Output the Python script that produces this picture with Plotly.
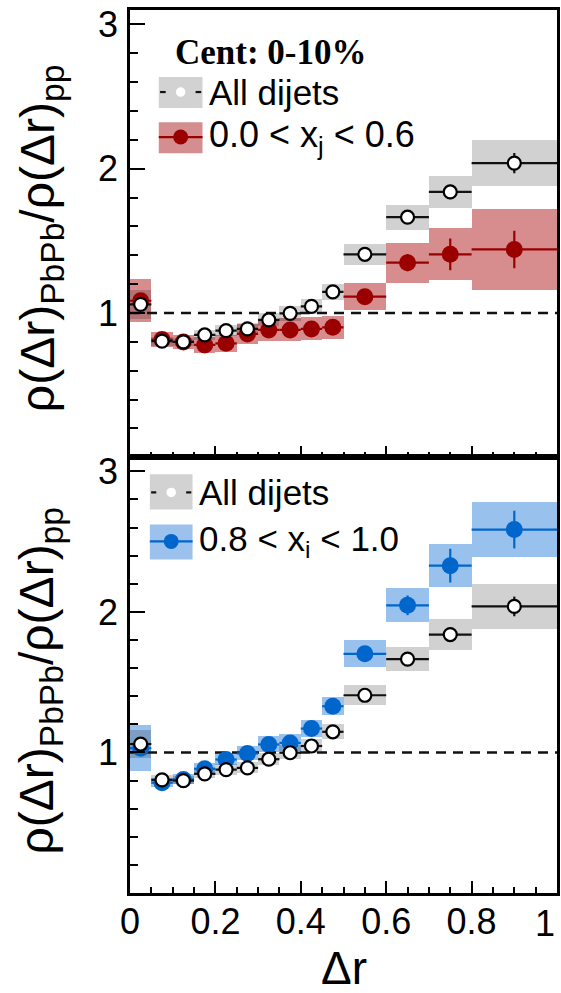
import plotly.graph_objects as go
from plotly.subplots import make_subplots

# Delta-r bins (centres and half widths)
dr_center = [0.025, 0.075, 0.125, 0.175, 0.225, 0.275, 0.325, 0.375, 0.425, 0.475,
             0.55, 0.65, 0.75, 0.9]
dr_halfwidth = [0.025] * 10 + [0.05, 0.05, 0.05, 0.1]

# All dijets (shown in both panels)
all_val = [1.06, 0.805, 0.80, 0.848, 0.878, 0.89, 0.952, 0.998, 1.046, 1.147,
           1.407, 1.664, 1.839, 2.039]
all_stat = [0.015, 0.01, 0.01, 0.01, 0.01, 0.01, 0.012, 0.012, 0.015, 0.02,
            0.02, 0.03, 0.05, 0.07]
all_sys = [0.10, 0.03, 0.03, 0.035, 0.04, 0.04, 0.045, 0.05, 0.05, 0.055,
           0.074, 0.087, 0.109, 0.16]

# 0.0 < xj < 0.6
low_val = [1.085, 0.816, 0.80, 0.779, 0.79, 0.855, 0.883, 0.883, 0.89, 0.901,
           1.113, 1.349, 1.407, 1.441]
low_stat = [0.02, 0.015, 0.015, 0.015, 0.015, 0.015, 0.015, 0.015, 0.02, 0.02,
            0.03, 0.06, 0.11, 0.13]
low_sys = [0.15, 0.05, 0.05, 0.055, 0.06, 0.07, 0.075, 0.08, 0.08, 0.08,
           0.092, 0.138, 0.18, 0.28]

# 0.8 < xj < 1.0
high_val = [1.03, 0.785, 0.808, 0.884, 0.95, 0.993, 1.057, 1.068, 1.17, 1.329,
            1.702, 2.047, 2.329, 2.586]
high_stat = [0.02, 0.015, 0.015, 0.015, 0.015, 0.015, 0.02, 0.02, 0.02, 0.025,
             0.03, 0.07, 0.12, 0.134]
high_sys = [0.165, 0.03, 0.035, 0.04, 0.045, 0.05, 0.055, 0.06, 0.06, 0.065,
            0.099, 0.118, 0.154, 0.197]

x_ticks = [0, 0.2, 0.4, 0.6, 0.8, 1.0]
x_ticktext = ["0", "0.2", "0.4", "0.6", "0.8", ""]   # "1" is placed flush right below
y_ticks = [1, 2, 3]

SANS = "Liberation Sans, Arial, sans-serif"
GRAY_BOX = "rgba(0,0,0,0.18)"
RED = "#9b0000"
RED_BOX = "rgba(170,10,15,0.47)"
BLUE = "#0066cc"
BLUE_BOX = "rgba(0,100,210,0.40)"

fig = make_subplots(rows=2, cols=1, shared_xaxes=False, vertical_spacing=0.0,
                    row_heights=[0.5066, 0.4934])


def add_panel(row, val, stat, sys, color, box_color):
    lo = [v - s for v, s in zip(val, sys)]
    hi = [2 * s for s in sys]
    all_lo = [v - s for v, s in zip(all_val, all_sys)]
    all_hi = [2 * s for s in all_sys]
    widths = [2 * h for h in dr_halfwidth]
    # systematic boxes
    fig.add_trace(go.Bar(x=dr_center, y=hi, base=lo, width=widths,
                         marker=dict(color=box_color, line=dict(width=0)),
                         showlegend=False, hoverinfo="skip"), row=row, col=1)
    fig.add_trace(go.Bar(x=dr_center, y=all_hi, base=all_lo, width=widths,
                         marker=dict(color=GRAY_BOX, line=dict(width=0)),
                         showlegend=False, hoverinfo="skip"), row=row, col=1)
    # unity reference
    fig.add_trace(go.Scatter(x=[0, 1], y=[1, 1], mode="lines",
                             line=dict(color="#111", width=2.5, dash="10px,7px"),
                             showlegend=False, hoverinfo="skip"), row=row, col=1)
    # selected class
    fig.add_trace(go.Scatter(
        x=dr_center, y=val, mode="markers",
        marker=dict(color=color, size=17, line=dict(width=0)),
        error_x=dict(type="data", array=dr_halfwidth, width=0, thickness=2.2, color=color),
        error_y=dict(type="data", array=stat, width=0, thickness=2.2, color=color),
        showlegend=False, cliponaxis=False), row=row, col=1)
    # all dijets
    fig.add_trace(go.Scatter(
        x=dr_center, y=all_val, mode="markers",
        marker=dict(color="white", size=13, line=dict(width=2.2, color="black")),
        error_x=dict(type="data", array=dr_halfwidth, width=0, thickness=2.2, color="#111"),
        error_y=dict(type="data", array=all_stat, width=0, thickness=2.2, color="#111"),
        showlegend=False, cliponaxis=False), row=row, col=1)


add_panel(1, low_val, low_stat, low_sys, RED, RED_BOX)
add_panel(2, high_val, high_stat, high_sys, BLUE, BLUE_BOX)

axis_common = dict(showline=True, linewidth=2.5, linecolor="black", mirror=True,
                   showgrid=False, zeroline=False, ticks="inside", tickcolor="black",
                   tickwidth=2)
for r in (1, 2):
    fig.update_xaxes(range=[0, 1], tickvals=x_ticks, ticktext=x_ticktext, ticklen=12,
                     minor=dict(ticks="inside", tickmode="linear", tick0=0, dtick=0.05,
                                ticklen=6, tickwidth=1.5, tickcolor="black"),
                     showticklabels=(r == 2), ticklabelstandoff=-5,
                     tickfont=dict(family=SANS, size=36, color="black"),
                     row=r, col=1, **axis_common)
    fig.update_yaxes(range=[0, 3.1], tickvals=y_ticks, ticklen=15,
                     minor=dict(ticks="inside", tickmode="linear", tick0=0, dtick=0.2,
                                ticklen=8, tickwidth=1.5, tickcolor="black"),
                     ticklabelstandoff=2,
                     tickfont=dict(family=SANS, size=36, color="black"),
                     row=r, col=1, **axis_common)

ytitle = "ρ(Δr)<sub>PbPb</sub>/ρ(Δr)<sub>pp</sub>"
annotations = [
    dict(text=ytitle, xref="paper", yref="paper", x=-0.21, y=0.742, textangle=-90,
         showarrow=False, xanchor="center", yanchor="middle",
         font=dict(family=SANS, size=48, color="black")),
    dict(text=ytitle, xref="paper", yref="paper", x=-0.21, y=0.241, textangle=-90,
         showarrow=False, xanchor="center", yanchor="middle",
         font=dict(family=SANS, size=48, color="black")),
    dict(text="1", xref="paper", yref="paper", x=1.0, y=-0.0345, showarrow=False,
         xanchor="right", yanchor="middle", font=dict(family=SANS, size=36, color="black")),
    dict(text="Δr", xref="paper", yref="paper", x=0.5, y=-0.085, showarrow=False,
         xanchor="center", yanchor="middle", font=dict(family=SANS, size=46, color="black")),
    # top panel legend text
    dict(text="<b>Cent: 0-10%</b>", xref="x domain", yref="y domain", x=0.1, y=0.906,
         xanchor="left", yanchor="middle", showarrow=False,
         font=dict(family="Liberation Serif, Times New Roman, serif", size=35, color="black")),
    dict(text="All dijets", xref="x domain", yref="y domain", x=0.18, y=0.8166,
         xanchor="left", yanchor="middle", showarrow=False,
         font=dict(family=SANS, size=35, color="black")),
    dict(text="0.0 < x<sub>j</sub> < 0.6", xref="x domain", yref="y domain", x=0.18, y=0.716,
         xanchor="left", yanchor="middle", showarrow=False,
         font=dict(family=SANS, size=36, color="black")),
    # bottom panel legend text
    dict(text="All dijets", xref="x2 domain", yref="y2 domain", x=0.158, y=0.9195,
         xanchor="left", yanchor="middle", showarrow=False,
         font=dict(family=SANS, size=35, color="black")),
    dict(text="0.8 < x<sub>i</sub> < 1.0", xref="x2 domain", yref="y2 domain", x=0.158, y=0.807,
         xanchor="left", yanchor="middle", showarrow=False,
         font=dict(family=SANS, size=35, color="black")),
]

shapes = []


def legend_entry(xr, yr, x0, x1, y0, y1, ymid, box, line_color, mcolor, mline, msize, split):
    shapes.append(dict(type="rect", xref=xr, yref=yr, x0=x0, x1=x1, y0=y0, y1=y1,
                       fillcolor=box, line=dict(width=0), layer="above"))
    xm = (x0 + x1) / 2
    if split:
        gap = 0.035
        shapes.append(dict(type="line", xref=xr, yref=yr, x0=x0 + 0.003, x1=xm - gap, y0=ymid, y1=ymid,
                           line=dict(color=line_color, width=2.2)))
        shapes.append(dict(type="line", xref=xr, yref=yr, x0=xm + gap, x1=x1 - 0.003, y0=ymid, y1=ymid,
                           line=dict(color=line_color, width=2.2)))
    else:
        shapes.append(dict(type="line", xref=xr, yref=yr, x0=x0, x1=x1, y0=ymid, y1=ymid,
                           line=dict(color=line_color, width=2.2)))
    r = msize / 2
    shapes.append(dict(type="circle", xref=xr, yref=yr, xsizemode="pixel", ysizemode="pixel",
                       xanchor=xm, yanchor=ymid, x0=-r, x1=r, y0=-r, y1=r,
                       fillcolor=mcolor, line=dict(color=mline, width=1.5 if mline else 0)))


legend_entry("x domain", "y domain", 0.0674, 0.1698, 0.781, 0.850, 0.8166,
             "rgb(210,210,210)", "#111", "white", "white", 8, True)
legend_entry("x domain", "y domain", 0.0674, 0.1698, 0.680, 0.749, 0.716,
             "rgb(212,142,144)", RED, RED, None, 15, False)
legend_entry("x2 domain", "y2 domain", 0.0465, 0.1465, 0.880, 0.961, 0.9195,
             "rgb(210,210,210)", "#111", "white", "white", 8, True)
legend_entry("x2 domain", "y2 domain", 0.0465, 0.1465, 0.7655, 0.846, 0.807,
             "rgb(155,193,236)", BLUE, BLUE, None, 15, False)

fig.update_layout(
    width=561, height=993,
    margin=dict(l=130, r=1, t=10, b=100),
    paper_bgcolor="white", plot_bgcolor="white",
    barmode="overlay", bargap=0,
    showlegend=False,
    annotations=annotations,
    shapes=shapes,
)

fig.write_html("out.html")
